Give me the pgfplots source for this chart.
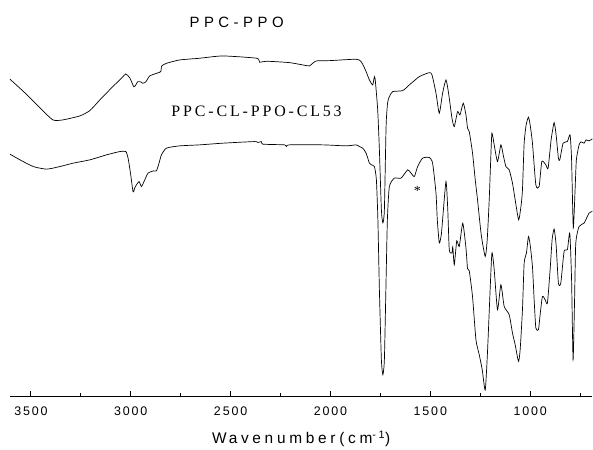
\documentclass[border=0pt]{standalone}
\usepackage{fontspec}
\setmainfont{Liberation Serif}
\newfontfamily\sansls{Liberation Sans}[LetterSpace=15]
\newfontfamily\sanslab{Liberation Sans}[LetterSpace=24]
\newfontfamily\sanstit{Liberation Sans}[LetterSpace=30]
\newfontfamily\serifls{Liberation Serif}[LetterSpace=18]
\usepackage{pgfplots}
\pgfplotsset{compat=1.18}
\begin{document}
\begin{tikzpicture}
\begin{axis}[
  scale only axis, width=583bp, height=397bp,
  xmin=688, xmax=3605, ymin=0, ymax=397,
  x dir=reverse,
  axis x line=bottom, axis y line=none,
  axis line style={line width=1.1pt,-},
  xtick={1000,1500,2000,2500,3000,3500},
  minor xtick={750,1250,1750,2250,2750,3250},
  tick align=inside,
  major tick length=6bp, minor tick length=3.5bp,
  every tick/.style={line width=1pt,black},
  /pgf/number format/assume math mode=true,
  /pgf/number format/1000 sep={},
  xticklabel style={font=\sansls\fontsize{12.5}{14}\selectfont, yshift=-7bp},
  xlabel={W\kern2bp avenumber(cm\textsuperscript{-1})},
  xlabel style={font=\sanslab\fontsize{15.5}{17}\selectfont, at={(rel axis cs:0.5,0)}, anchor=center, yshift=-42bp},
  clip=false,
]
\addplot[black, line width=0.7pt, smooth, tension=0.35] coordinates {
(3605,317.7) (3530,304) (3455,289) (3390,277) (3340,277) (3255,281) (3205,286.3) (3155,297)
(3090,310.3) (3045,319) (3025,323) (3005,319) (2985,310.3) (2975,312) (2965,315.3) (2950,315)
(2940,313.7) (2925,315) (2905,321) (2870,323.7) (2850,325.3) (2845,331) (2820,333.7) (2755,337)
(2655,338.7) (2540,341) (2370,338.7) (2355,334.7) (2320,335.7) (2205,334.3) (2120,331.3) (2105,331)
(2071.5,336) (2005,336.3) (1871.5,337.7) (1846.5,335.3) (1825,327) (1805,317) (1788.5,312) (1780,320.3)
(1775,315.3) (1763.5,287) (1755,247) (1745,187) (1737.5,174) (1730,187) (1721.5,270.3) (1714,294)
(1705,300.3) (1688.5,305.3) (1638.5,306.3) (1605,312) (1555,320.3) (1505,324.3) (1491.5,322)
(1471.5,303.7) (1455,283.7) (1438.5,303.7) (1421.5,317) (1408.5,303.7) (1391.5,278.7) (1380,270.3)
(1363.5,285.3) (1351.5,282) (1335,293.7) (1321.5,282) (1313.5,268.7) (1305,265.3) (1288.5,243.7)
(1275,217) (1263.5,197) (1245,162) (1225,140.3) (1215,157) (1205,197) (1197.5,237) (1191.5,263.7)
(1180,252) (1163.5,235.3) (1146.5,252) (1135,242) (1121.5,230.3) (1105,227) (1088.5,213.7) (1075,197)
(1057.5,177) (1045,192) (1038.5,207) (1030,253.7) (1020,272) (1008.5,279.7) (1000,272) (988.5,253.7)
(971.5,212) (955,210.3) (941.5,235.3) (921.5,232) (910,228.7) (895,257) (880,274.3) (870,262)
(858.5,238.7) (851.5,237) (835,253.7) (813.5,255.3) (800,262) (792.5,237) (784,169) (775,207)
(768.5,237) (755,252) (745,255) (730,253.7) (720,257) (705,256) (688.5,258)
};
\addplot[black, line width=0.7pt, smooth, tension=0.35] coordinates {
(3605,242.7) (3555,237) (3488.5,230.3) (3421.5,227.7) (3355,230.3) (3288.5,233.7) (3205,237)
(3121.5,242) (3055,245.3) (3025,245.3) (3013.5,238.7) (3001.5,223.7) (2988.5,205) (2980,209)
(2971.5,212) (2958.5,215.3) (2946.5,210.3) (2930,217) (2913.5,223.7) (2885,226) (2871.5,226)
(2858.5,233.7) (2846.5,242) (2821.5,248.7) (2755,251) (2655,252) (2538.5,253.7) (2380,255.3)
(2363.5,254.3) (2346.5,255.3) (2338.5,252.7) (2230,252) (2221.5,250.3) (2205,252) (2038.5,252)
(1921.5,251) (1871.5,252) (1855,250.3) (1838.5,248.7) (1821.5,243.7) (1805,233.7) (1795,232)
(1780,230.3) (1770,217) (1762.5,177) (1755,107) (1745,37) (1737.5,22) (1730,37) (1722.5,107)
(1715,177) (1705,210.3) (1680,218.7) (1646.5,218.7) (1613.5,227) (1596.5,223.7) (1580,220.3)
(1563.5,230.3) (1538.5,238.7) (1505,239.3) (1488.5,233.7) (1471.5,203.7) (1465,177) (1455,153.7)
(1445,162) (1438.5,177) (1421.5,215.3) (1412.5,187) (1405,147) (1391.5,143.7) (1387.5,150)
(1380,132) (1367.5,156) (1355,150.3) (1337.5,173.5) (1321.5,149) (1313.5,128) (1305,126)
(1288.5,100) (1271.5,57) (1255,42) (1240,27) (1225,6.5) (1213.5,45) (1202.5,97) (1191.5,143.7)
(1180,127) (1163.5,87) (1146.5,112) (1130,90.3) (1105,82) (1088.5,63.7) (1075,52) (1058.5,35.3)
(1050,47) (1038.5,87) (1030,133.7) (1018.5,143.7) (1008.5,160.3) (1000,152) (988.5,130.3) (980,97)
(971.5,68.7) (958.5,67) (950,82) (938.5,100.3) (925,97) (913.5,93.7) (900,127) (890,157) (880,167.7)
(870,152) (858.5,113.7) (846.5,113.7) (830,145.3) (813.5,147) (801.5,163.7) (792.5,117) (785,37)
(777.5,97) (771.5,153.7) (755,170.3) (730,173.7) (705,183.7) (688.5,185.3)
};
\node[font=\sanstit\fontsize{15}{17}\selectfont] at (axis cs:2470,375) {PPC-PPO};
\node[font=\serifls\fontsize{16}{18}\selectfont] at (axis cs:2370,286) {PPC-CL-PPO-CL53};
\node[font=\fontsize{14}{16}\selectfont] at (axis cs:1565,206) {*};
\path (rel axis cs:0,1) (rel axis cs:1,1);
\end{axis}
\path ([xshift=-10bp]current axis.south west);
\end{tikzpicture}
\end{document}
